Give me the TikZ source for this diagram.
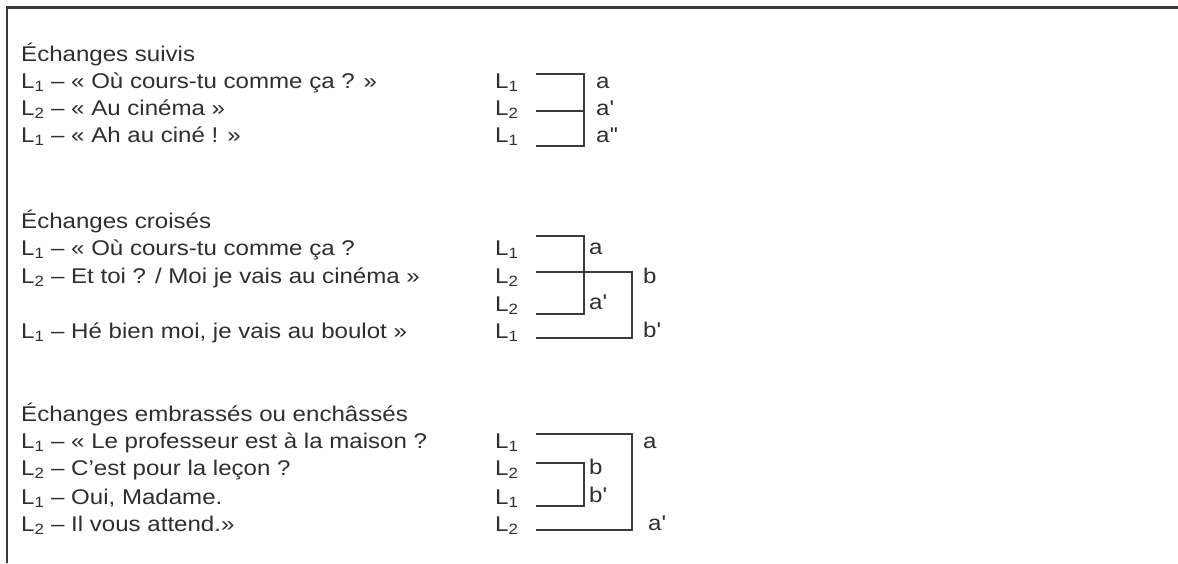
\documentclass[tikz,border=0pt]{standalone}
\usepackage{fontspec}
\setmainfont{Liberation Sans}[FakeStretch=1.13]
\definecolor{ink}{HTML}{2E2E2E}
\definecolor{rule}{HTML}{3A3A3A}
\begin{document}
\begin{tikzpicture}[x=1pt,y=-1pt,
  txt/.style={anchor=base west,inner sep=0pt,text=ink,font=\fontsize{21.3}{25}\selectfont},
  frameline/.style={draw=rule,line width=2.2pt},
  brk/.style={draw=rule,line width=1.5pt}]
\useasboundingbox (0,0) rectangle (1178,563);
\newcommand{\pr}{\textquotesingle}
% frame
\coordinate (fbl) at (7,563);
\coordinate (ftl) at (7,7.5);
\coordinate (ftr) at (1178,7.5);
\draw[frameline] (fbl) -- (ftl) -- (ftr);

% ---------- Section 1
\node[txt] (t1) at (21,61) {Échanges suivis};
\node[txt] (t1a) at (21,88) {L\textsubscript{1} – « Où cours-tu comme ça ? »};
\node[txt] (t1b) at (21,115) {L\textsubscript{2} – « Au cinéma »};
\node[txt] (t1c) at (21,142) {L\textsubscript{1} – « Ah au ciné ! »};
\node[txt] (l1a) at (495,88) {L\textsubscript{1}};
\node[txt] (l1b) at (495,115) {L\textsubscript{2}};
\node[txt] (l1c) at (495,142) {L\textsubscript{1}};
\node[txt] (r1a) at (596,88) {a};
\node[txt] (r1b) at (596,115) {a\pr};
\node[txt] (r1c) at (596,142) {a\pr\pr};
\coordinate (s1a) at (536,74);  \coordinate (e1a) at (584,74);
\coordinate (s1b) at (536,111); \coordinate (e1b) at (584,111);
\coordinate (s1c) at (536,146); \coordinate (e1c) at (584,146);
\draw[brk] (s1a) -- (e1a) -- (e1c) -- (s1c);
\draw[brk] (s1b) -- (e1b);

% ---------- Section 2
\node[txt] (t2) at (21,228) {Échanges croisés};
\node[txt] (t2a) at (21,255) {L\textsubscript{1} – « Où cours-tu comme ça ?};
\node[txt] (t2b) at (21,283) {L\textsubscript{2} – Et toi ? / Moi je vais au cinéma »};
\node[txt] (t2c) at (21,338) {L\textsubscript{1} – Hé bien moi, je vais au boulot »};
\node[txt] (l2a) at (495,255) {L\textsubscript{1}};
\node[txt] (l2b) at (495,283) {L\textsubscript{2}};
\node[txt] (l2c) at (495,311) {L\textsubscript{2}};
\node[txt] (l2d) at (495,338) {L\textsubscript{1}};
\node[txt] (r2a) at (589,254) {a};
\node[txt] (r2b) at (643,283) {b};
\node[txt] (r2c) at (589,309) {a\pr};
\node[txt] (r2d) at (643,337) {b\pr};
\coordinate (s2a) at (536,236); \coordinate (e2a) at (584,236);
\coordinate (s2b) at (536,272); \coordinate (e2b) at (632,272);
\coordinate (s2c) at (536,314); \coordinate (e2c) at (584,314);
\coordinate (s2d) at (536,338); \coordinate (e2d) at (632,338);
\draw[brk] (s2a) -- (e2a) -- (e2c) -- (s2c);
\draw[brk] (s2b) -- (e2b) -- (e2d) -- (s2d);

% ---------- Section 3
\node[txt] (t3) at (21,421) {Échanges embrassés ou enchâssés};
\node[txt] (t3a) at (21,448) {L\textsubscript{1} – « Le professeur est à la maison ?};
\node[txt] (t3b) at (21,475) {L\textsubscript{2} – C’est pour la leçon ?};
\node[txt] (t3c) at (21,504) {L\textsubscript{1} – Oui, Madame.};
\node[txt] (t3d) at (21,531) {L\textsubscript{2} – Il vous attend.»};
\node[txt] (l3a) at (495,448) {L\textsubscript{1}};
\node[txt] (l3b) at (495,475) {L\textsubscript{2}};
\node[txt] (l3c) at (495,504) {L\textsubscript{1}};
\node[txt] (l3d) at (495,531) {L\textsubscript{2}};
\node[txt] (r3a) at (643,448) {a};
\node[txt] (r3b) at (589,474) {b};
\node[txt] (r3c) at (589,502) {b\pr};
\node[txt] (r3d) at (648,530) {a\pr};
\coordinate (s3a) at (536,434); \coordinate (e3a) at (632,434);
\coordinate (s3b) at (536,463); \coordinate (e3b) at (584,463);
\coordinate (s3c) at (536,506); \coordinate (e3c) at (584,506);
\coordinate (s3d) at (536,530); \coordinate (e3d) at (632,530);
\draw[brk] (s3a) -- (e3a) -- (e3d) -- (s3d);
\draw[brk] (s3b) -- (e3b) -- (e3c) -- (s3c);
\end{tikzpicture}
\end{document}
